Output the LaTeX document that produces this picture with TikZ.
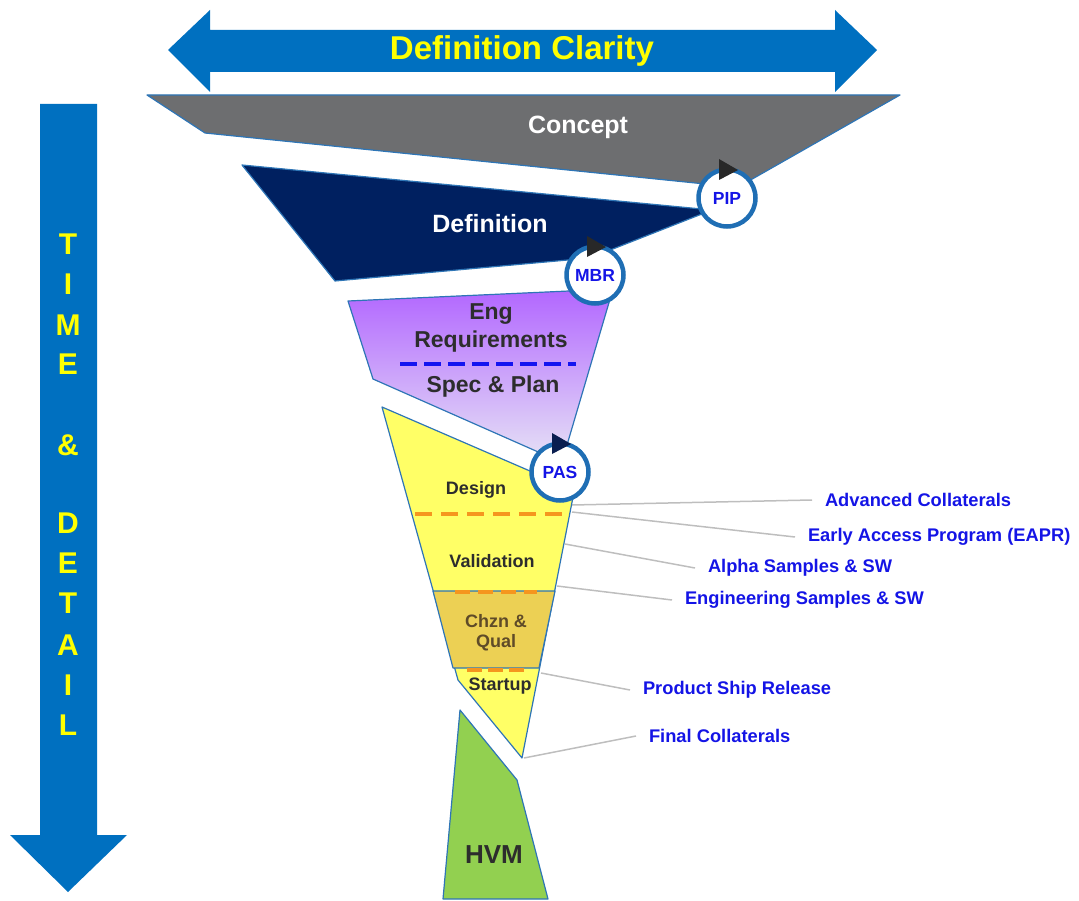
\documentclass[tikz,border=0pt]{standalone}
\usepackage{fontspec}
\setmainfont{Liberation Sans}
\definecolor{arrowblue}{RGB}{0,112,192}
\definecolor{edgeblue}{RGB}{46,117,182}
\definecolor{conceptgray}{RGB}{109,110,112}
\definecolor{defnavy}{RGB}{0,32,96}
\definecolor{engtop}{RGB}{178,102,255}
\definecolor{engbot}{RGB}{228,222,246}
\definecolor{designyellow}{RGB}{255,255,102}
\definecolor{chznyellow}{RGB}{236,208,84}
\definecolor{hvmgreen}{RGB}{146,208,80}
\definecolor{dashorange}{RGB}{245,150,30}
\definecolor{dashblue}{RGB}{20,20,240}
\definecolor{labelblue}{RGB}{20,20,230}
\definecolor{textgray}{RGB}{45,45,45}
\definecolor{chzntext}{RGB}{95,75,40}
\definecolor{leadergray}{RGB}{190,190,190}
\definecolor{tipgray}{RGB}{40,40,40}
\definecolor{tipnavy}{RGB}{10,30,80}
\definecolor{gateblue}{RGB}{31,110,180}
\definecolor{clarityyellow}{RGB}{255,255,0}

\begin{document}
\begin{tikzpicture}[x=1pt, y=-1pt,
  stage/.style={draw=edgeblue, line width=1.2pt, line join=round},
  gate/.style={circle, draw=gateblue, fill=white, line width=4.5pt, minimum size=57pt, inner sep=0pt, text=labelblue, font=\fontsize{17.5}{18}\selectfont\bfseries},
  phase/.style={text=textgray, font=\fontsize{18}{20}\selectfont\bfseries, inner sep=0pt},
  engphase/.style={text=textgray, font=\fontsize{23}{25}\selectfont\bfseries, inner sep=0pt},
  bigphase/.style={font=\fontsize{25}{27}\selectfont\bfseries, inner sep=0pt},
  axisletter/.style={text=clarityyellow, font=\fontsize{30}{30}\selectfont\bfseries, inner sep=0pt},
  milestone/.style={anchor=west, text=labelblue, font=\fontsize{18.3}{19}\selectfont\bfseries, inner sep=0pt, outer xsep=13pt},
  leader/.style={draw=leadergray, line width=1.5pt},
  orangedash/.style={dashorange, line width=4pt, dash pattern=on 17pt off 9pt},
]
\useasboundingbox (0,0) rectangle (1079,901);

% the two axis arrows
\fill[arrowblue] (168,50) -- (210,10) -- (210,30) -- (835,30) -- (835,10) -- (877,50) -- (835,92) -- (835,72) -- (210,72) -- (210,92) -- cycle;
\node[text=clarityyellow, font=\fontsize{33}{33}\selectfont\bfseries] (clarity) at (522,51) {Definition Clarity};
\fill[arrowblue] (40,104) -- (97,104) -- (97,835) -- (127,835) -- (68,892) -- (10,835) -- (40,835) -- cycle;
\foreach \ltr/\y [count=\i] in {T/244, I/284, M/325, E/364, \&/445, D/523, E/563, T/603, A/645, I/685, L/725}
  \node[axisletter] (time\i) at (68,\y) {\ltr};

% concept and definition
\filldraw[stage, fill=conceptgray] (147,95) -- (900,95) -- (740,186) -- (715,185) -- (205,133) -- cycle;
\node[bigphase, text=white] (concept) at (578,127) {Concept};
\filldraw[stage, fill=defnavy] (242,165) -- (712,210) -- (590,258) -- (335,281) -- cycle;
\node[bigphase, text=white] (definition) at (490,224) {Definition};

% eng requirements
\shadedraw[stage, top color=engtop, bottom color=engbot] (348,301) -- (613,289) -- (567,445) -- (545,455) -- (373,379) -- cycle;
\node[engphase] (eng) at (491,314) {Eng};
\node[engphase] (req) at (491,342) {Requirements};
\draw[dashblue, line width=4pt, dash pattern=on 17pt off 7pt] (400,364) -- (576,364);
\node[engphase] (spec) at (493,387) {Spec \& Plan};

% leader lines to the milestones
\coordinate (advc) at (572,505);
\coordinate (eaprc) at (572,512);
\coordinate (alphac) at (565,544);
\coordinate (esc) at (557,586);
\coordinate (psrc) at (541,673);
\coordinate (finalc) at (524,758);
\node[milestone] (adv) at (812,500) {Advanced Collaterals};
\node[milestone] (eapr) at (795,537) {Early Access Program (EAPR)};
\node[milestone] (alpha) at (695,568) {Alpha Samples \& SW};
\node[milestone] (es) at (672,600) {Engineering Samples \& SW};
\node[milestone] (psr) at (630,690) {Product Ship Release};
\node[milestone] (final) at (636,736) {Final Collaterals};
\draw[leader] (advc) -- (adv.west);
\draw[leader] (eaprc) -- (eapr.west);
\draw[leader] (alphac) -- (alpha.west);
\draw[leader] (esc) -- (es.west);
\draw[leader] (psrc) -- (psr.west);
\draw[leader] (finalc) -- (final.west);

% design, validation, chzn, startup
\filldraw[stage, fill=designyellow] (382,407) -- (560,484) -- (574,492) -- (522,758) -- (458,680) -- cycle;
\node[phase] (design) at (476,490) {Design};
\draw[orangedash] (415,514) -- (562,514);
\node[phase] (valid) at (492,561) {Validation};
\filldraw[stage, fill=chznyellow] (433,591) -- (555,591) -- (539,668) -- (453,668) -- cycle;
\draw[orangedash, dash pattern=on 15pt off 8pt] (455,592) -- (537,592);
\node[phase, text=chzntext] (chzn) at (496,621) {Chzn \&};
\node[phase, text=chzntext] (qual) at (496,643) {Qual};
\draw[orangedash, dash pattern=on 15pt off 6pt] (467,670) -- (527,670);
\node[phase] (startup) at (500,686) {Startup};

% hvm
\filldraw[stage, fill=hvmgreen] (460,710) -- (517,780) -- (548,899) -- (443,899) -- cycle;
\node[bigphase, text=textgray, font=\fontsize{26}{28}\selectfont\bfseries] (hvm) at (494,855) {HVM};

% gates
\node[gate] (pip) at (727,198) {PIP};
\node[gate] (mbr) at (595,275) {MBR};
\node[gate] (pas) at (560,472) {PAS};
\foreach \g/\col in {pip/tipgray, mbr/tipgray, pas/tipnavy}
  \fill[\col] ([shift={(-8,-39)}]\g.center) -- ([shift={(-8,-18)}]\g.center) -- ([shift={(11,-28)}]\g.center) -- cycle;

\end{tikzpicture}
\end{document}
